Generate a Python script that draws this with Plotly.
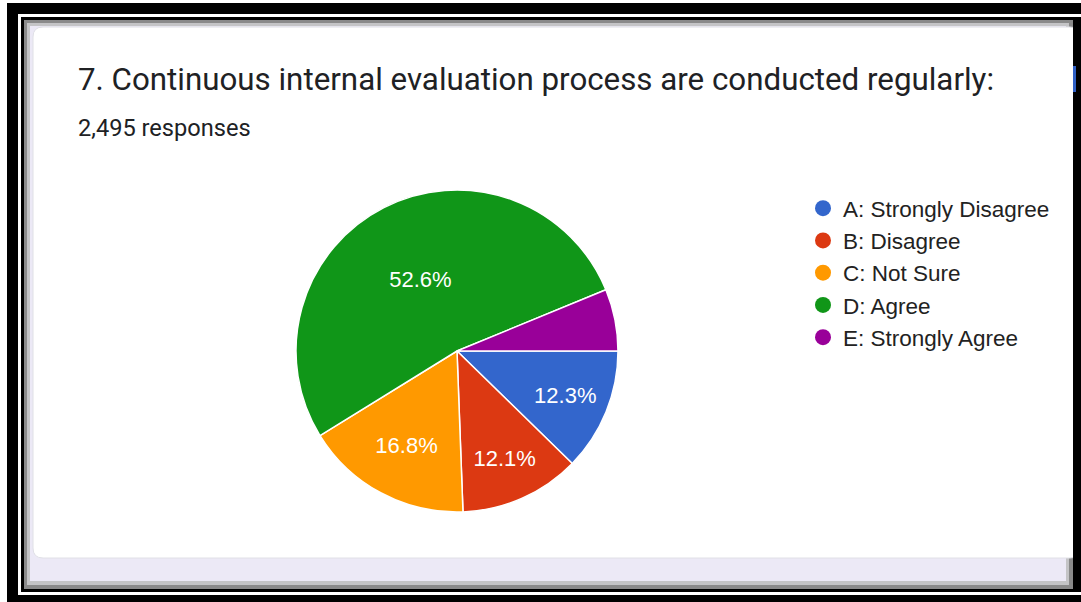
import plotly.graph_objects as go

W, H = 1081, 602

# survey answers (2,495 responses)
labels = ["A: Strongly Disagree", "B: Disagree", "C: Not Sure", "D: Agree", "E: Strongly Agree"]
counts = [307, 302, 419, 1312, 155]
colors = ["#3366CC", "#DC3912", "#FF9900", "#109618", "#990099"]
shown = ["%{percent:.1%}", "%{percent:.1%}", "%{percent:.1%}", "%{percent:.1%}", ""]

question = "7. Continuous internal evaluation process are conducted regularly:"
responses = "2,495 responses"


def px(x):
    return x / W


def py(y):
    return 1 - y / H


def rect(x0, y0, x1, y1, color):
    return dict(type="rect", xref="paper", yref="paper", x0=px(x0), x1=px(x1),
                y0=py(y1), y1=py(y0), fillcolor=color, line=dict(width=0), layer="below")


def rounded(x0, y0, x1, y1, r, color, border):
    # rounded card, corners computed in pixels then mapped to paper
    pts = [
        f"M {px(x0 + r)} {py(y0)}",
        f"L {px(x1 - r)} {py(y0)}",
        f"Q {px(x1)} {py(y0)} {px(x1)} {py(y0 + r)}",
        f"L {px(x1)} {py(y1 - r)}",
        f"Q {px(x1)} {py(y1)} {px(x1 - r)} {py(y1)}",
        f"L {px(x0 + r)} {py(y1)}",
        f"Q {px(x0)} {py(y1)} {px(x0)} {py(y1 - r)}",
        f"L {px(x0)} {py(y0 + r)}",
        f"Q {px(x0)} {py(y0)} {px(x0 + r)} {py(y0)} Z",
    ]
    return dict(type="path", xref="paper", yref="paper", path=" ".join(pts),
                fillcolor=color, line=dict(color=border, width=1), layer="below")


fig = go.Figure()

fig.add_trace(go.Pie(
    labels=labels,
    values=counts,
    sort=False,
    direction="clockwise",
    rotation=90,
    marker=dict(colors=colors, line=dict(color="white", width=1.5)),
    texttemplate=shown,
    textposition="inside",
    insidetextorientation="horizontal",
    textfont=dict(family="Liberation Sans, Arial", size=22, color="white"),
    hoverinfo="label+percent",
    showlegend=False,
    domain=dict(x=[px(295), px(619)], y=[py(512), py(190)]),
))

# legend entries with round markers
for name, c in zip(labels, colors):
    fig.add_trace(go.Scatter(x=[None], y=[None], mode="markers", name=name,
                             marker=dict(symbol="circle", size=20, color=c)))

shapes = [
    rect(7, 3, 1081, 602, "black"),
    rect(18, 14, 1090, 595, "white"),
    rect(21, 17, 1081, 592, "black"),
    rect(24, 20, 1073, 589, "#8a8a8a"),
    rect(27, 23, 1069, 585, "#c4c4c6"),
    rect(30, 26, 1066, 581, "#ece9f6"),
    rounded(33, 27, 1080, 558, 10, "white", "#e0e0e6"),
    rect(1073, 17, 1081, 592, "black"),
    rect(1073, 66, 1076, 92, "#2f5fc4"),
]

fig.update_layout(
    width=W,
    height=H,
    margin=dict(l=0, r=0, t=0, b=0),
    paper_bgcolor="white",
    plot_bgcolor="rgba(0,0,0,0)",
    xaxis=dict(visible=False),
    yaxis=dict(visible=False),
    shapes=shapes,
    showlegend=True,
    uniformtext=dict(minsize=22, mode="show"),
    legend=dict(
        x=px(803), y=py(187), xanchor="left", yanchor="top",
        font=dict(family="Liberation Sans, Arial", size=22.5, color="#222222"),
        bgcolor="rgba(0,0,0,0)",
        itemclick=False,
    ),
    annotations=[
        dict(text=question, xref="paper", yref="paper", x=px(76), y=py(79),
             xanchor="left", yanchor="middle", showarrow=False,
             font=dict(family="Roboto", size=31.3, color="#202124")),
        dict(text=responses, xref="paper", yref="paper", x=px(76), y=py(128),
             xanchor="left", yanchor="middle", showarrow=False,
             font=dict(family="Roboto", size=23.6, color="#202124")),
    ],
)

fig.write_html("out.html", config={"displayModeBar": False},
               post_script="document.body.style.margin='0';")
